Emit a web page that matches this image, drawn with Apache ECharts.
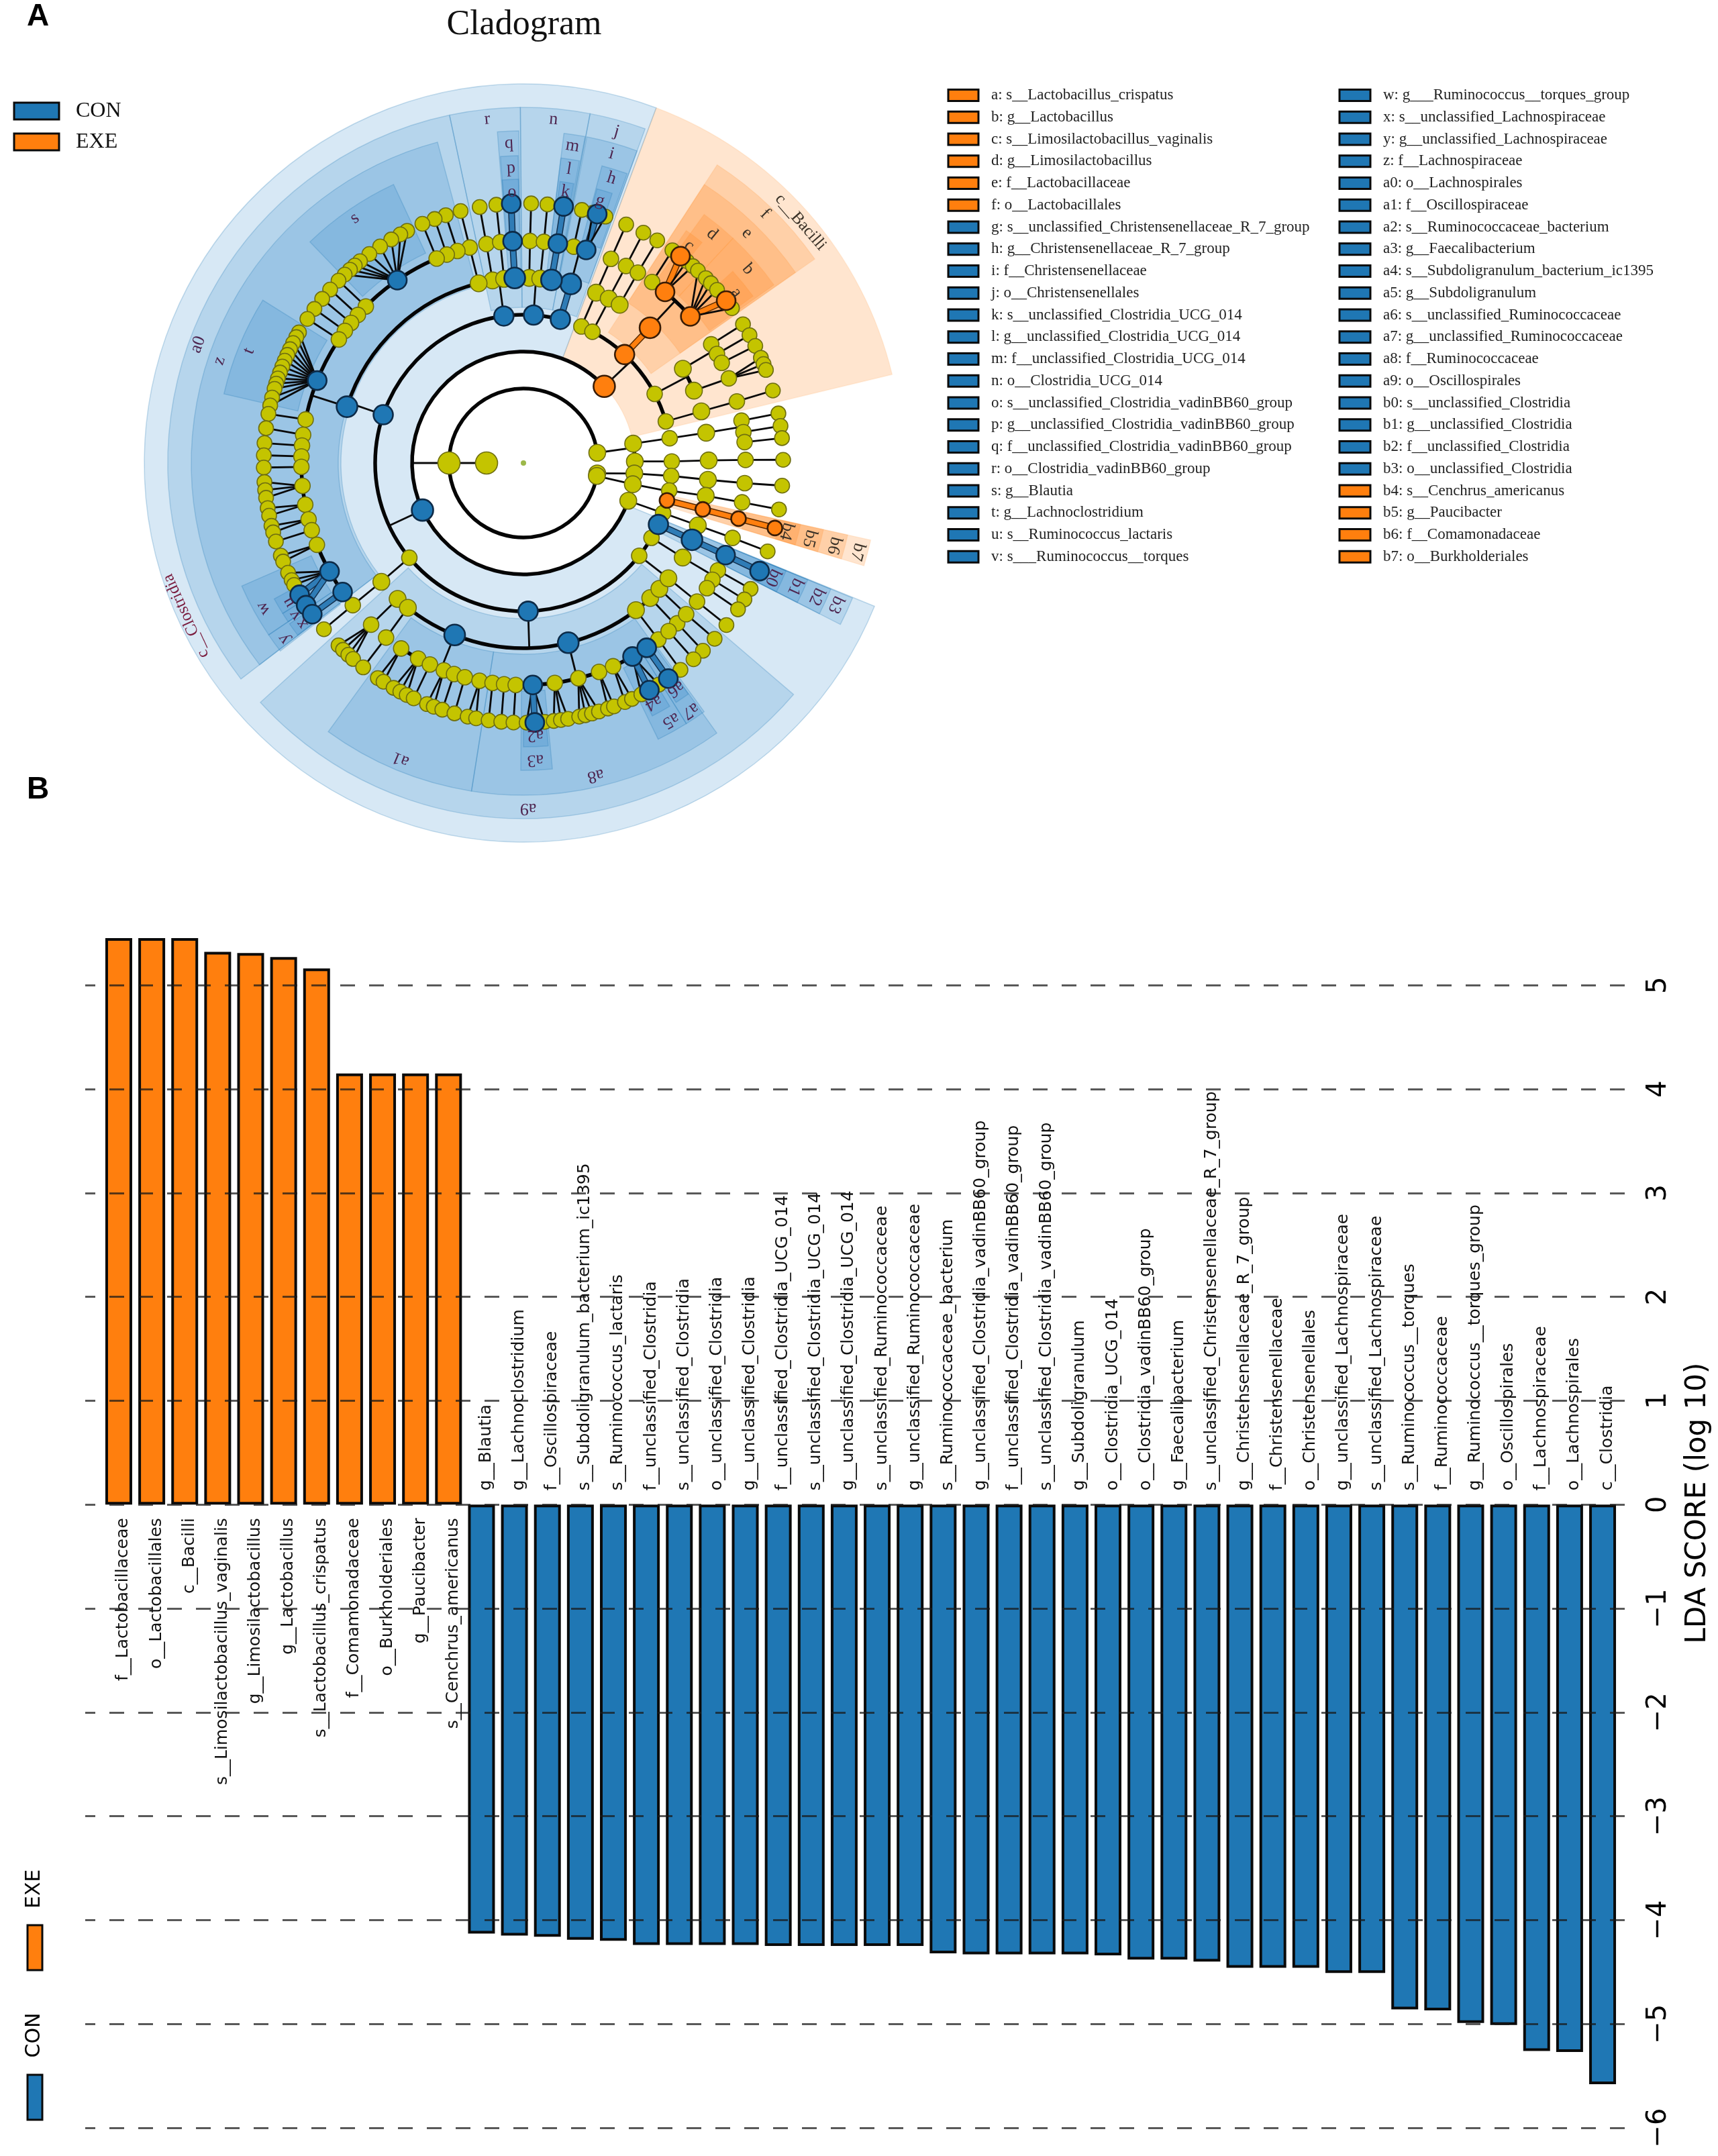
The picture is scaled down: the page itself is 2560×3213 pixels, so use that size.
<!DOCTYPE html>
<html><head><meta charset="utf-8">
<style>html,body{margin:0;padding:0;background:#fff}#c{width:2560px;height:3213px}</style>
<script src="https://cdn.jsdelivr.net/npm/echarts@6/dist/echarts.min.js"></script>
</head><body><div id="c"></div>
<script>
// ---------- B: LDA bars ----------
const exeNames = ['f__Lactobacillaceae','o__Lactobacillales','c__Bacilli','s__Limosilactobacillus_vaginalis','g__Limosilactobacillus','g__Lactobacillus','s__Lactobacillus_crispatus','f__Comamonadaceae','o__Burkholderiales','g__Paucibacter','s__Cenchrus_americanus'];
const exeScores = [5.62,5.58,5.54,5.32,5.31,5.27,5.16,4.15,4.15,4.15,4.15];
const conNames = ['g__Blautia','g__Lachnoclostridium','f__Oscillospiraceae','s__Subdoligranulum_bacterium_ic1395','s__Ruminococcus_lactaris','f__unclassified_Clostridia','s__unclassified_Clostridia','o__unclassified_Clostridia','g__unclassified_Clostridia','f__unclassified_Clostridia_UCG_014','s__unclassified_Clostridia_UCG_014','g__unclassified_Clostridia_UCG_014','s__unclassified_Ruminococcaceae','g__unclassified_Ruminococcaceae','s__Ruminococcaceae_bacterium','g__unclassified_Clostridia_vadinBB60_group','f__unclassified_Clostridia_vadinBB60_group','s__unclassified_Clostridia_vadinBB60_group','g__Subdoligranulum','o__Clostridia_UCG_014','o__Clostridia_vadinBB60_group','g__Faecalibacterium','s__unclassified_Christensenellaceae_R_7_group','g__Christensenellaceae_R_7_group','f__Christensenellaceae','o__Christensenellales','g__unclassified_Lachnospiraceae','s__unclassified_Lachnospiraceae','s__Ruminococcus__torques','f__Ruminococcaceae','g__Ruminococcus__torques_group','o__Oscillospirales','f__Lachnospiraceae','o__Lachnospirales','c__Clostridia'];
const conScores = [-4.13,-4.15,-4.16,-4.19,-4.20,-4.24,-4.24,-4.24,-4.24,-4.25,-4.25,-4.25,-4.25,-4.25,-4.32,-4.33,-4.33,-4.33,-4.33,-4.34,-4.38,-4.38,-4.40,-4.46,-4.46,-4.46,-4.51,-4.51,-4.86,-4.87,-4.99,-5.01,-5.26,-5.27,-5.58];

// ---------- A: cladogram legend ----------
const legendLeft = ['a: s__Lactobacillus_crispatus','b: g__Lactobacillus','c: s__Limosilactobacillus_vaginalis','d: g__Limosilactobacillus','e: f__Lactobacillaceae','f: o__Lactobacillales','g: s__unclassified_Christensenellaceae_R_7_group','h: g__Christensenellaceae_R_7_group','i: f__Christensenellaceae','j: o__Christensenellales','k: s__unclassified_Clostridia_UCG_014','l: g__unclassified_Clostridia_UCG_014','m: f__unclassified_Clostridia_UCG_014','n: o__Clostridia_UCG_014','o: s__unclassified_Clostridia_vadinBB60_group','p: g__unclassified_Clostridia_vadinBB60_group','q: f__unclassified_Clostridia_vadinBB60_group','r: o__Clostridia_vadinBB60_group','s: g__Blautia','t: g__Lachnoclostridium','u: s__Ruminococcus_lactaris','v: s___Ruminococcus__torques'];
const legendRight = ['w: g___Ruminococcus__torques_group','x: s__unclassified_Lachnospiraceae','y: g__unclassified_Lachnospiraceae','z: f__Lachnospiraceae','a0: o__Lachnospirales','a1: f__Oscillospiraceae','a2: s__Ruminococcaceae_bacterium','a3: g__Faecalibacterium','a4: s__Subdoligranulum_bacterium_ic1395','a5: g__Subdoligranulum','a6: s__unclassified_Ruminococcaceae','a7: g__unclassified_Ruminococcaceae','a8: f__Ruminococcaceae','a9: o__Oscillospirales','b0: s__unclassified_Clostridia','b1: g__unclassified_Clostridia','b2: f__unclassified_Clostridia','b3: o__unclassified_Clostridia','b4: s__Cenchrus_americanus','b5: g__Paucibacter','b6: f__Comamonadaceae','b7: o__Burkholderiales'];
const legendExeCount = 6; // first rows of the left column are EXE
const legendRightExeFrom = 18;

// ---------- A: clade tree; rows are [id, parent, angle (deg), group] ----------
const ringRadii = [0,55,111,166,221,276,331,387];
const level0 = [['root','',0,'R']];
const level1 = [['K','root',180,'N']];
const level2 = [['P1','K',180,'N'],['P2','K',7.9,'n'],['P3','K',352,'n'],['P4','K',350,'n']];
const level3 = [['Bac','P1',43.5,'e'],['Clo','P1',205,'c'],['T340','P1',340.2,'n'],['T10','P2',10,'n'],['T1','P2',0.8,'n'],['T355','P3',354.6,'n'],['T349','P4',349,'n']];
const level4 = [['f','Bac',47,'e'],['B67','Bac',67,'n'],['B62','Bac',62.3,'n'],['B28','Bac',27.8,'n'],['B16','Bac',16.3,'n'],
 ['U10','T10',9.6,'n'],['U1','T1',0.6,'n'],['U355','T355',355,'n'],['U349','T349',349.3,'n'],['b7','T349',345.4,'E'],['U340','T340',340.3,'n'],
 ['j','Clo',75.6,'c'],['n','Clo',86.1,'c'],['r','Clo',97.6,'c'],['a0','Clo',161,'c'],['C220','Clo',219.7,'n'],['a9','Clo',271.8,'c'],['C321','Clo',321.3,'n'],['C330','Clo',329.7,'n'],['b3','Clo',335.5,'c']];
const level5 = [['e','f',46.9,'e'],['B67a','B67',66.9,'n'],['B62a','B62',62.6,'n'],['B59a','B62',58.7,'n'],['B31','B28',30.6,'n'],['B23','B28',23,'n'],['B16a','B16',16.2,'n'],
 ['V10','U10',9.4,'n'],['V1','U1',0.8,'n'],['V355','U355',354.8,'n'],['V349','U349',349.8,'n'],['b6','b7',345.5,'E'],['V340','U340',340.3,'n'],
 ['i','j',75.2,'c'],['n88','n',88.2,'n'],['n85','n',84.8,'n'],['m','n',81.3,'c'],['r99','r',99.6,'n'],['r96','r',96,'n'],['q','r',92.7,'c'],['A104','a0',104,'n'],['z','a0',162.3,'c'],
 ['C220a','C220',219.9,'n'],['L227','a9',227.2,'n'],['L231','a9',231.4,'n'],['a1','a9',248.2,'c'],['a8','a9',284,'c'],['L307','a9',307.4,'n'],['L313','a9',313.2,'n'],['L317','a9',317.2,'n'],['C321a','C321',321.5,'n'],['C329','C330',329.3,'n'],['b2','b3',335.5,'c']];
const level6 = [['d','e',50.4,'e'],['b','e',41.3,'e'],['E54','e',54.6,'n'],['B67b','B67a',66.8,'n'],['B62b','B62a',62.5,'n'],['B59b','B59a',59,'n'],['B32','B31',32.3,'n'],['B29','B31',29.4,'n'],['B27','B31',26.8,'n'],['B22','B23',22.4,'n'],['B16b','B16a',16.1,'n'],
 ['W11','V10',11,'n'],['W8','V10',8,'n'],['W5','V10',5.4,'n'],['W1','V1',0.8,'n'],['W355','V355',354.8,'n'],['W350','V349',349.8,'n'],['b5','b6',345.5,'E'],['W340','V340',340.3,'n'],
 ['h','i',73.6,'c'],['i77','i',76.9,'n'],['n88b','n88',88.3,'n'],['n85b','n85',84.7,'n'],['l','m',81.1,'c'],['r99b','r99',99.6,'n'],['r96b','r96',96,'n'],['p','q',92.8,'c'],['A104b','A104',104,'n'],
 ['z107','z',107.3,'n'],['z110','z',110.2,'n'],['z113','z',113,'n'],['s','z',124.6,'c'],['z135','z',135.2,'n'],['z138','z',138.2,'n'],['z141','z',140.9,'n'],['z143','z',143.5,'n'],['z146','z',146.2,'n'],['t','z',158.2,'c'],
 ['z169','z',168.7,'n'],['z173','z',172.7,'n'],['z175','z',175.5,'n'],['z178','z',178.3,'n'],['z181','z',181,'n'],['z186','z',185.9,'n'],['z191','z',190.8,'n'],['z195','z',194.7,'n'],['z198','z',197.6,'n'],['z202','z',201.6,'n'],['w','z',209.2,'c'],['y','z',215.5,'c'],
 ['C220b','C220a',219.8,'n'],['L226','L227',226.7,'n'],['L232','L231',231.8,'n'],
 ['o237','a1',236.6,'n'],['o242','a1',241.7,'n'],['o245','a1',245.1,'n'],['o249','a1',249,'n'],['o252','a1',251.8,'n'],['o255','a1',254.7,'n'],['o259','a1',258.6,'n'],['o262','a1',262,'n'],['o265','a1',265,'n'],['o268','a1',268,'n'],
 ['a3','a8',272.4,'c'],['r278','a8',278.1,'n'],['r284','a8',284.3,'n'],['r290','a8',289.9,'n'],['r294','a8',293.8,'n'],['a5','a8',299.4,'c'],['a7','a8',303.7,'c'],
 ['L307b','L307',307.4,'n'],['L314','L313',313.8,'n'],['L311','L313',310.8,'n'],['L317b','L317',317.1,'n'],['C321b','C321a',321.4,'n'],['C331','C329',331.1,'n'],['C328','C329',328.3,'n'],['C326','C329',325.7,'n'],['b1','b2',335.5,'c']];
const level7 = [['c','d',52.8,'e'],['','d',51,'n'],['','d',49.3,'n'],['a','b',38.7,'e'],['','b',47.8,'n'],['','b',45.4,'n'],['','b',43.8,'n'],['','b',41.8,'n'],['','b',36.6,'n'],['','E54',55,'n'],['','B67b',66.7,'n'],['','B62b',62.5,'n'],['','B59b',59,'n'],['','B32',32.3,'n'],['','B29',29.5,'n'],['','B27',26.8,'n'],['','B22',23.9,'n'],['','B22',22.4,'n'],['','B22',21,'n'],['','B16b',16.2,'n'],
 ['','W11',11,'n'],['','W8',8.2,'n'],['','W5',5.5,'n'],['','W1',0.7,'n'],['','W355',355,'n'],['','W350',349.7,'n'],['b4','b5',345.5,'E'],['','W340',340.1,'n'],
 ['g','h',73.5,'c'],['','h',74.5,'n'],['','h',71.6,'n'],['','i77',77,'n'],['','n88b',88.3,'n'],['','n85b',84.7,'n'],['k','l',81.1,'c'],['','r99b',99.7,'n'],['','r96b',96,'n'],['o','p',92.7,'c'],['','A104b',104,'n'],
 ['','z107',107.4,'n'],['','z110',110,'n'],['','z113',112.9,'n'],['','s',116.6,'n'],['','s',118.3,'n'],['','s',120.6,'n'],['','s',123.5,'n'],['','s',126.4,'n'],['','s',129,'n'],['','s',130.5,'n'],['','s',131.9,'n'],['','s',133.5,'n'],
 ['','z135',135.4,'n'],['','z138',138.1,'n'],['','z141',140.8,'n'],['','z143',143.6,'n'],['','z146',146.3,'n'],
 ['','t',149.8,'n'],['','t',151,'n'],['','t',152.5,'n'],['','t',154,'n'],['','t',155.4,'n'],['','t',156.8,'n'],['','t',158.2,'n'],['','t',159.6,'n'],['','t',161,'n'],['','t',162.2,'n'],['','t',163.4,'n'],['','t',165.4,'n'],['','t',167.2,'n'],
 ['','z169',169.1,'n'],['','z173',172.3,'n'],['','z175',175.6,'n'],['','z178',178.3,'n'],['','z181',181,'n'],['','z186',184.2,'n'],['','z186',186,'n'],['','z186',187.7,'n'],['','z191',190,'n'],['','z191',191.7,'n'],['','z195',194,'n'],['','z195',195.5,'n'],['','z198',197.6,'n'],['','z202',200.9,'n'],['','z202',202.3,'n'],
 ['','w',205,'n'],['','w',206.8,'n'],['','w',208,'n'],['u','w',210.5,'c'],['v','w',213.2,'c'],['x','y',215.6,'c'],['','C220b',219.8,'n'],['','L226',224.6,'n'],['','L226',226,'n'],['','L226',227.6,'n'],['','L226',229,'n'],['','L232',231.9,'n'],
 ['','o237',235.9,'n'],['','o237',237.4,'n'],['','o242',240,'n'],['','o242',241.7,'n'],['','o242',243.3,'n'],['','o245',245,'n'],['','o249',248.2,'n'],['','o249',249.8,'n'],['','o252',251.8,'n'],['','o255',254.6,'n'],['','o259',257.6,'n'],['','o259',259.5,'n'],['','o262',262.3,'n'],['','o265',265.1,'n'],['','o268',267.8,'n'],
 ['','a3',270.7,'n'],['','a3',274.7,'n'],['a2','a3',272.5,'c'],['','r278',276.7,'n'],['','r278',278.3,'n'],['','r278',279.9,'n'],['','r284',282.4,'n'],['','r284',283.8,'n'],['','r284',285.3,'n'],['','r284',286.9,'n'],['','r290',289,'n'],['','r290',290.4,'n'],['','r294',293,'n'],['','r294',294.7,'n'],
 ['','a5',297,'n'],['','a5',301.4,'n'],['a4','a5',299,'c'],['a6','a7',303.9,'c'],['','L307b',307.2,'n'],['','L314',313.7,'n'],['','L311',310.9,'n'],['','L317b',317.4,'n'],['','C321b',321.4,'n'],['','C331',331,'n'],['','C328',328.3,'n'],['','C326',325.7,'n'],['b0','b1',335.4,'c']];
const thickEdges = ['e','c','a','i','g','p','o','l','k','u','v','x','a2','a4','a6','b2','b1','b0','b6','b5','b4'];

// ---------- A: shaded clades; rows are [innerRadius, outerRadius, angleFrom, angleTo, group] ----------
const classShades = [[166,565,13.5,69.5,'e'],[166,565,69.5,337.8,'c']];
const orderShades = [[232,530,35,57,'e'],[232,530,70,79.2,'c'],[232,530,79.2,90.5,'c'],[232,530,90.5,102,'c'],[272,530,102,217.4,'c'],[232,530,222.3,319.4,'c'],[221,530,333,337.7,'c'],[221,530,343.2,347.5,'e']];
const familyShades = [[285,495,35,57,'e'],[285,495,70,79,'c'],[285,495,79.3,83,'c'],[285,495,90.8,94.5,'c'],[276,495,105,217.4,'c'],[285,495,234,261,'c'],[285,495,261,305.6,'c'],[285,495,333,337.7,'c'],[285,495,343.2,347.5,'e']];
const genusShades = [[340,458,47,54,'e'],[340,458,35.4,47,'e'],[340,458,70.3,75.2,'c'],[340,458,79.5,83,'c'],[340,458,91,94.3,'c'],[345,458,115,134,'c'],[345,458,148,167,'c'],[345,458,203.6,214,'c'],[345,458,214,217.7,'c'],[340,458,269.5,275.4,'c'],[340,458,296,302,'c'],[340,458,302,306,'c'],[340,458,333,337.7,'c'],[340,458,343.2,347.5,'e']];
const speciesShades = [[392,423,51,55,'e'],[392,423,36,42.5,'e'],[392,423,71.8,75,'c'],[392,423,79.8,82.6,'c'],[392,423,91,94.3,'c'],[392,423,208.6,212,'c'],[392,423,212,214,'c'],[392,423,214.5,217.3,'c'],[392,423,270,275,'c'],[392,423,297,301,'c'],[392,423,302.5,305.5,'c'],[392,423,333,337.7,'c'],[392,423,343.2,347.5,'e']];

// ---------- A: clade labels; rows are [text, radius, angle, group] ----------
const cladeLabels = [['c__Bacilli',547,41,'e'],['c__Clostridia',552,204.4,'C'],['f',517,45.9,'e'],['e',478,45.8,'e'],['d',442,50.5,'e'],['b',442,40.8,'e'],['c',407,52.7,'e'],['a',406,38.7,'e'],
 ['b7',515,345.1,'e'],['b6',479,345.1,'e'],['b5',441,345.2,'e'],['b4',405,345.4,'e'],['b3',511,335.6,'c'],['b2',480,335.5,'c'],['b1',445,335.5,'c'],['b0',409,335.3,'c'],
 ['j',513,74.3,'c'],['i',479,74.1,'c'],['h',444,72.8,'c'],['g',407,73.7,'c'],['n',514,85,'c'],['m',478,81.2,'c'],['l',443,81.2,'c'],['k',409,81.2,'c'],['r',515,96,'c'],['q',477,92.6,'c'],['p',440,92.4,'c'],['o',404,92.4,'c'],
 ['s',443,124.6,'c'],['t',442,157.8,'c'],['z',478,161.4,'c'],['a0',516,160,'c'],['w',444,209.2,'c'],['y',443,216.3,'c'],['u',407,210.7,'c'],['v',409,213.7,'c'],['x',408,216,'c'],
 ['a9',515,270.8,'c'],['a8',478,283,'c'],['a1',478,247.5,'c'],['a3',443,272.3,'c'],['a2',406,272.5,'c'],['a5',442,299.8,'c'],['a4',406,298.5,'c'],['a7',445,304,'c'],['a6',406,304,'c']];

const yTicks = [-6,-5,-4,-3,-2,-1,0,1,2,3,4,5];
const fileTitle = 'Cladogram';

// ---------- build ----------
const ORANGE='#FF7F0E', BLUE='#1F77B4', OLIVE='#C4C400';
const SERIF='"Liberation Serif"', SANS='"DejaVu Sans"';
const levels=[level0,level1,level2,level3,level4,level5,level6,level7];
const byId={}, nodes=[];
levels.forEach((rows,L)=>rows.forEach(row=>{
  const nd={id:row[0],parent:row[1],angle:row[2],group:row[3],level:L,r:ringRadii[L],kids:[]};
  nodes.push(nd); if(nd.id) byId[nd.id]=nd;
}));
nodes.forEach(nd=>{ if(nd.parent && nd.parent!=='root' && byId[nd.parent]) byId[nd.parent].kids.push(nd); });

const edgeRows=[];
nodes.forEach(p=>{
  if(!p.kids.length) return;
  const L=p.level+1, ring=ringRadii[L];
  if(p.kids.length>1 && L<=6){
    const angs=p.kids.map(k=>k.angle).concat([p.angle]);
    edgeRows.push({kind:'line',r1:p.r,a1:p.angle,r2:ring,a2:p.angle});
    edgeRows.push({kind:'arc',r1:ring,a1:Math.min(...angs),a2:Math.max(...angs)});
    p.kids.forEach(k=>{ if(thickEdges.includes(k.id)) edgeRows.push({kind:'thick',r1:p.r,a1:p.angle,r2:k.r,a2:k.angle,group:k.group}); });
  } else {
    p.kids.forEach(k=>{
      edgeRows.push({kind:thickEdges.includes(k.id)?'thick':'line',r1:p.r,a1:p.angle,r2:k.r,a2:k.angle,group:k.group});
    });
  }
});

const deg=Math.PI/180;
const shadeColor={e:'rgba(255,127,14,0.2)',c:'rgba(32,128,200,0.18)'};
const shadeEdge={e:'rgba(255,127,14,0.1)',c:'rgba(31,119,180,0.25)'};
const shadeRows=[].concat(classShades,orderShades,familyShades,genusShades,speciesShades);

function center(api){return api.coord([0,0]);}
function radiusPx(api,r,a){const c=center(api),q=api.coord([r,a]);return Math.hypot(q[0]-c[0],q[1]-c[1]);}

const smallYellow=[0,33,25,25,23,25,23,22];
const bigMark=[0,33,33,32,29,31,28,28];
function markSize(v,p){
  const nd=nodes[p.data[2]];
  if(nd.group==='R') return 8;
  if(nd.group==='N') return 33;
  if(nd.group==='E') return 22;
  if(nd.group==='n') return smallYellow[nd.level];
  return bigMark[nd.level];
}
function nodeData(groups){
  const out=[]; nodes.forEach((nd,i)=>{ if(groups.includes(nd.group)) out.push([nd.r,nd.angle,i]); }); return out;
}

const allNames=exeNames.concat(conNames);
const exeData=allNames.map((n,i)=>i<exeScores.length?exeScores[i]:null);
const conData=allNames.map((n,i)=>i>=exeScores.length?conScores[i-exeScores.length]:null);

const graphics=[];
function txt(text,x,y,font,opt){opt=opt||{};
  graphics.push({type:'text',x:x,y:y,rotation:opt.rotation||0,z:20,silent:true,
    style:{text:text,font:font,fill:opt.fill||'#111',align:opt.align||'left',verticalAlign:'middle'}});
}
function box(x,y,w,h,fill,bw){graphics.push({type:'rect',z:20,silent:true,shape:{x:x,y:y,width:w,height:h},style:{fill:fill,stroke:'#0a0a0a',lineWidth:bw||3}});}

txt('A',40,25,'bold 46px "Liberation Sans"',{fill:'#000'});
txt('B',40,1177,'bold 46px "Liberation Sans"',{fill:'#000'});
box(21,153,67,25,BLUE); txt('CON',113,166,'32px '+SERIF);
box(21,199,67,25,ORANGE); txt('EXE',113,212,'32px '+SERIF);
legendLeft.forEach((t,i)=>{const y=142+i*32.75; box(1413,y-8.5,45,17,i<legendExeCount?ORANGE:BLUE); txt(t,1477,y,'23px '+SERIF,{fill:'#222'});});
legendRight.forEach((t,i)=>{const y=142+i*32.75; box(1996,y-8.5,46,17,i>=legendRightExeFrom?ORANGE:BLUE); txt(t,2061,y,'23px '+SERIF,{fill:'#222'});});
box(41,2869,22,67,ORANGE); txt('EXE',51,2815,'30px '+SANS,{rotation:Math.PI/2,align:'center',fill:'#000'});
box(41,3092,22,67,BLUE); txt('CON',51,3033,'30px '+SANS,{rotation:Math.PI/2,align:'center',fill:'#000'});
txt('LDA SCORE (log 10)',2530,2240,'42px '+SANS,{rotation:Math.PI/2,align:'center',fill:'#000'});

const option={
  animation:false,backgroundColor:'#fff',
  title:{text:fileTitle,left:776,textAlign:'center',top:6,textStyle:{fontFamily:'Liberation Serif',fontSize:52,fontWeight:'normal',color:'#111'}},
  polar:{center:[780,690],radius:[0,608]},
  angleAxis:{type:'value',min:0,max:360,startAngle:0,clockwise:false,show:false},
  radiusAxis:{type:'value',min:0,max:608,show:false},
  grid:[
    {left:152.4,width:2260.2,top:1400,height:1771},
    {left:127,width:2313,top:1468.2,height:1702.8}
  ],
  xAxis:[
    {type:'category',gridIndex:0,data:allNames,show:false},
    {type:'value',gridIndex:1,min:0,max:1,show:false}
  ],
  yAxis:[
    {type:'value',gridIndex:0,min:-6,max:5.44,show:false},
    {type:'value',gridIndex:1,min:-6,max:5,interval:1,position:'right',z:6,
      axisLine:{show:false},axisTick:{show:false},
      splitLine:{show:true,lineStyle:{color:'rgba(25,25,25,0.72)',width:3,type:[22,21],dashOffset:7}},
      axisLabel:{rotate:90,fontFamily:'DejaVu Sans',fontSize:40,color:'#000',margin:12,
        formatter:v=>String(v).replace('-','\u2212')}}
  ],
  graphic:graphics,
  series:[
    {type:'custom',name:'shades',coordinateSystem:'polar',z:1,silent:true,encode:{radius:0,angle:1},
      data:shadeRows.map(s=>[s[1],s[2]]),
      renderItem(p,api){
        const s=shadeRows[p.dataIndex],c=center(api);
        return {type:'sector',shape:{cx:c[0],cy:c[1],r:radiusPx(api,s[1],s[2]),r0:radiusPx(api,s[0],s[2]),startAngle:-s[3]*deg,endAngle:-s[2]*deg,clockwise:true},
          style:{fill:shadeColor[s[4]],stroke:shadeEdge[s[4]],lineWidth:1.5}};
      }},
    {type:'custom',name:'branches',coordinateSystem:'polar',z:2,silent:true,encode:{radius:0,angle:1},
      data:edgeRows.map(e=>[e.r1,e.a1]),
      renderItem(p,api){
        const e=edgeRows[p.dataIndex];
        if(e.kind==='arc'){
          const c=center(api);
          return {type:'arc',shape:{cx:c[0],cy:c[1],r:radiusPx(api,e.r1,e.a1),startAngle:-e.a2*deg,endAngle:-e.a1*deg,clockwise:true},style:{fill:null,stroke:'#050505',lineWidth:5.5}};
        }
        const a=api.coord([e.r1,e.a1]),b=api.coord([e.r2,e.a2]);
        const shape={x1:a[0],y1:a[1],x2:b[0],y2:b[1]};
        if(e.kind==='thick'){
          const col=(e.group==='E'||e.group==='e')?ORANGE:'#2F7CB6', dark=(e.group==='E'||e.group==='e')?'#5a2a00':'#12304f';
          return {type:'group',children:[
            {type:'line',shape:shape,style:{stroke:dark,lineWidth:10}},
            {type:'line',shape:shape,style:{stroke:col,lineWidth:7}}]};
        }
        return {type:'line',shape:shape,style:{stroke:'#0a0a0a',lineWidth:2.8}};
      }},
    {type:'scatter',name:'other',coordinateSystem:'polar',z:3,silent:true,data:nodeData(['n','N']),symbolSize:markSize,encode:{radius:0,angle:1},
      itemStyle:{color:OLIVE,borderColor:'#6f6f10',borderWidth:1.6,opacity:1}},
    {type:'scatter',name:'root',coordinateSystem:'polar',z:3,silent:true,data:nodeData(['R']),symbolSize:markSize,encode:{radius:0,angle:1},
      itemStyle:{color:'#9CB84A',opacity:1}},
    {type:'scatter',name:'CON clades',coordinateSystem:'polar',z:4,silent:true,data:nodeData(['c']),symbolSize:markSize,encode:{radius:0,angle:1},
      itemStyle:{color:BLUE,borderColor:'#0d2b48',borderWidth:2.6,opacity:1}},
    {type:'scatter',name:'EXE clades',coordinateSystem:'polar',z:4,silent:true,data:nodeData(['e','E']),symbolSize:markSize,encode:{radius:0,angle:1},
      itemStyle:{color:ORANGE,borderColor:'#3a1c05',borderWidth:2.6,opacity:1}},
    {type:'custom',name:'clade labels',coordinateSystem:'polar',z:5,silent:true,encode:{radius:0,angle:1},
      data:cladeLabels.map(l=>[l[1],l[2]]),
      renderItem(p,api){
        const l=cladeLabels[p.dataIndex],q=api.coord([l[1],l[2]]);
        const fill=l[3]==='e'?'#3a3228':(l[3]==='C'?'#7a1c3e':'#4e2650');
        return {type:'text',x:q[0],y:q[1],rotation:(l[2]-90)*deg,
          style:{text:l[0],font:(l[0].length>2?'25px ':'26px ')+SERIF,fill:fill,align:'center',verticalAlign:'middle'}};
      }},
    {type:'bar',name:'EXE',xAxisIndex:0,yAxisIndex:0,z:3,data:exeData,barWidth:40,barGap:'-100%',itemStyle:{color:ORANGE,borderColor:'#0a0a0a',borderWidth:4},silent:true},
    {type:'bar',name:'CON',xAxisIndex:0,yAxisIndex:0,z:3,data:conData,barWidth:40,barGap:'-100%',itemStyle:{color:BLUE,borderColor:'#0a0a0a',borderWidth:4},silent:true},
    {type:'custom',name:'bar names',xAxisIndex:0,yAxisIndex:0,z:8,silent:true,clip:false,encode:{x:0,y:1},
      data:allNames.map((n,i)=>[i,0]),
      renderItem(p,api){
        const i=p.dataIndex,q=api.coord([i,0]),exe=i<exeScores.length;
        return {type:'text',x:q[0]+7,y:q[1]+(exe?20:-21),rotation:Math.PI/2,
          style:{text:allNames[i],font:'25px '+SANS,fill:'#111',align:exe?'right':'left',verticalAlign:'middle'}};
      }}
  ]
};
const chart=echarts.init(document.getElementById('c'),null,{renderer:'canvas',width:2560,height:3213});
chart.setOption(option);
</script></body></html>
